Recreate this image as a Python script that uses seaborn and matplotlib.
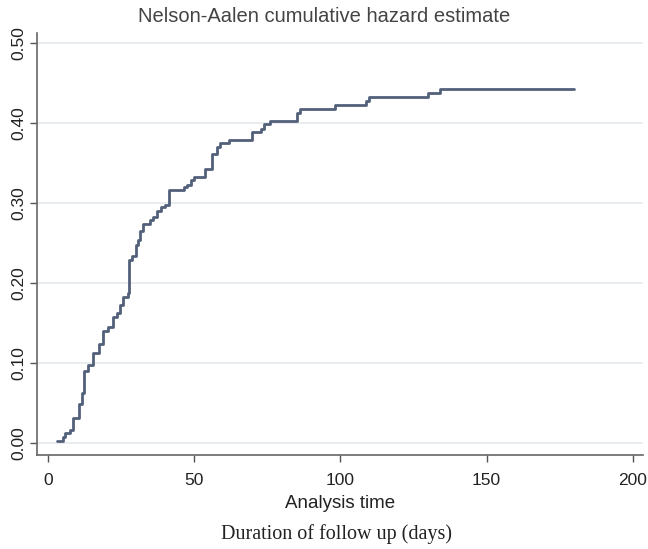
import matplotlib
matplotlib.use("Agg")
import matplotlib.pyplot as plt
import seaborn as sns
import pandas as pd

# Event times (days) and Nelson-Aalen cumulative hazard (step function)
times = [3.1, 5.2, 6.0, 7.6, 8.8, 10.8, 11.6, 12.5, 13.8, 15.6, 17.7, 19.0,
         20.7, 22.4, 23.8, 24.8, 25.9, 27.6, 27.9, 28.7, 30.1, 31.0, 31.5,
         32.7, 34.8, 35.9, 37.5, 38.6, 40.1, 41.6, 46.6, 47.7, 48.9, 50.0,
         53.7, 56.1, 57.8, 58.9, 62.1, 69.9, 72.8, 74.0, 76.0, 85.2, 86.1,
         98.2, 108.8, 109.9, 130.1, 134.2, 180.0]
hazard = [0.003, 0.007, 0.013, 0.016, 0.031, 0.049, 0.063, 0.090, 0.097, 0.113,
          0.124, 0.140, 0.145, 0.157, 0.163, 0.172, 0.182, 0.187, 0.229, 0.234,
          0.247, 0.254, 0.265, 0.274, 0.279, 0.283, 0.290, 0.295, 0.298, 0.316,
          0.320, 0.323, 0.329, 0.333, 0.343, 0.361, 0.370, 0.375, 0.379, 0.389,
          0.393, 0.399, 0.403, 0.413, 0.418, 0.423, 0.428, 0.433, 0.438, 0.443,
          0.443]
yticks = [0.00, 0.10, 0.20, 0.30, 0.40, 0.50]
xticks = [0, 50, 100, 150, 200]

sns.set_style("white")
plt.rcParams['font.family'] = ['Liberation Sans', 'DejaVu Sans']

df = pd.DataFrame({"t": times, "h": hazard})

fig = plt.figure(figsize=(6.48, 5.49), dpi=100)
ax = fig.add_axes([0.0571, 0.1712, 0.9352, 0.7692])

for yv in yticks:
    ax.axhline(yv, color="#e6eaee", lw=1.2, zorder=0)

sns.lineplot(data=df, x="t", y="h", ax=ax, drawstyle="steps-post",
             color="#52607a", lw=2.0, estimator=None)

ax.set_xlim(-3.66, 203.5)
ax.set_ylim(-0.015, 0.513)
ax.set_xticks(xticks)
ax.set_yticks(yticks)
ax.set_yticklabels([f"{v:.2f}" for v in yticks], rotation=90, va="center")
ax.tick_params(axis="both", direction="out", length=5, width=1.0,
               colors="#555555", labelcolor="#222222", labelsize=12.5,
               left=True, bottom=True)
ax.tick_params(axis="x", pad=8)
ax.tick_params(axis="y", pad=3)
for s in ["top", "right"]:
    ax.spines[s].set_visible(False)
for s in ["left", "bottom"]:
    ax.spines[s].set_color("#666666")
    ax.spines[s].set_linewidth(1.2)

ax.set_xlabel("Analysis time", fontsize=13.5, color="#222222", labelpad=5)
ax.set_ylabel("")
fig.text(0.5, 0.970, "Nelson-Aalen cumulative hazard estimate",
         ha="center", va="center", fontsize=14.5, color="#444444")
fig.text(0.52, 0.027, "Duration of follow up (days)", ha="center", va="center",
         fontsize=14.5, color="#222222", family=["Liberation Serif", "DejaVu Serif"])

fig.savefig("out.png", dpi=100)
